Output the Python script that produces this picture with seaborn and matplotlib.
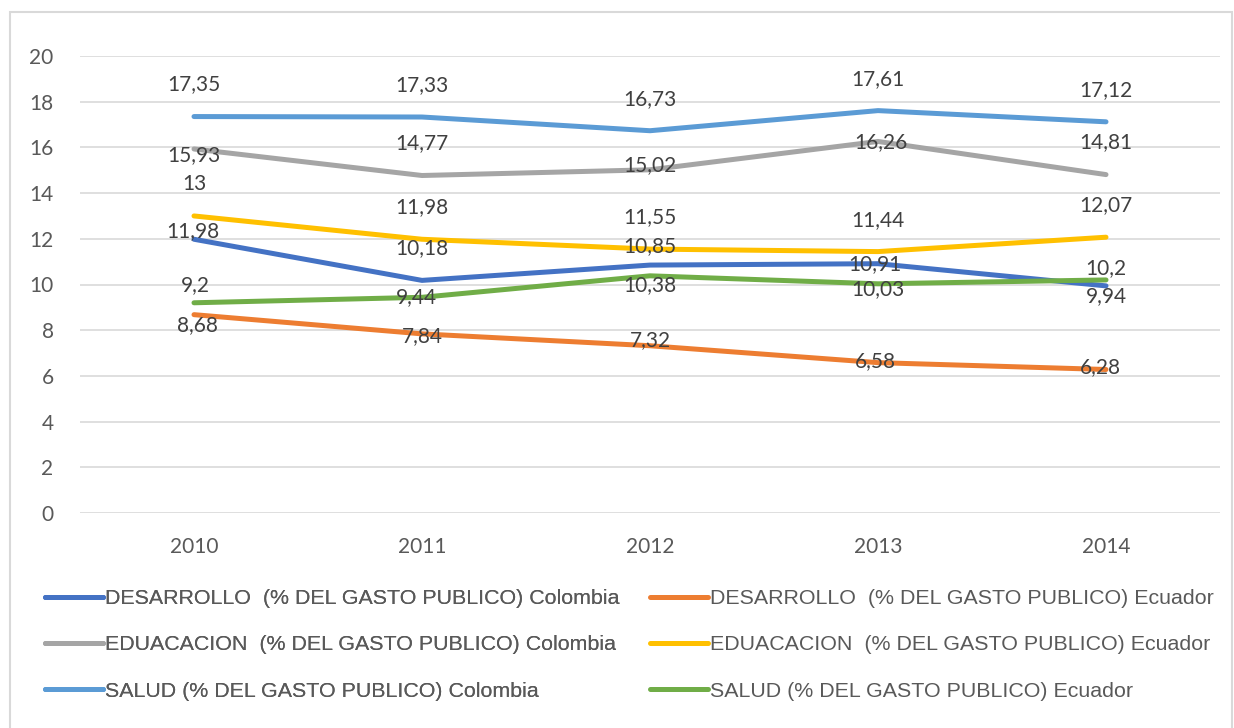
import pandas as pd
import seaborn as sns
import matplotlib.pyplot as plt
from matplotlib.lines import Line2D
from matplotlib.patches import Rectangle

# data
years = [2010, 2011, 2012, 2013, 2014]
series_names = [
    'DESARROLLO  (% DEL GASTO PUBLICO) Colombia',
    'DESARROLLO  (% DEL GASTO PUBLICO) Ecuador',
    'EDUACACION  (% DEL GASTO PUBLICO) Colombia',
    'EDUACACION  (% DEL GASTO PUBLICO) Ecuador',
    'SALUD (% DEL GASTO PUBLICO) Colombia',
    'SALUD (% DEL GASTO PUBLICO) Ecuador',
]
desarrollo_col = [11.98, 10.18, 10.85, 10.91, 9.94]
desarrollo_ecu = [8.68, 7.84, 7.32, 6.58, 6.28]
educacion_col = [15.93, 14.77, 15.02, 16.26, 14.81]
educacion_ecu = [13, 11.98, 11.55, 11.44, 12.07]
salud_col = [17.35, 17.33, 16.73, 17.61, 17.12]
salud_ecu = [9.2, 9.44, 10.38, 10.03, 10.2]
all_values = [desarrollo_col, desarrollo_ecu, educacion_col,
              educacion_ecu, salud_col, salud_ecu]

colors = ['#4472C4', '#ED7D31', '#A5A5A5', '#FFC000', '#5B9BD5', '#70AD47']
palette = dict(zip(series_names, colors))

# label offsets in pixels (excel labels were moved by hand on some points)
label_dy = [
    [8, 32, 19, 0, -10],
    [-10, -2, 6, 2, 2],
    [-6, 32, 5, -1, 32],
    [32, 32, 32, 32, 32],
    [32, 32, 32, 32, 32],
    [18, 0, -9, -5, 12],
]
label_dx = [
    [-1, 0, 0, -3, 0],
    [3, 0, 0, -3, -6],
    [0, 0, 0, 3, 0],
    [0, 0, 0, 0, 0],
    [0, 0, 0, 0, 0],
    [1, -6, 0, 0, 0],
]

rows = []
for name, vals in zip(series_names, all_values):
    for y, v in zip(years, vals):
        rows.append({'year': y, 'value': v, 'serie': name})
df = pd.DataFrame(rows)

sns.set_style('white')
plt.rcParams['font.family'] = ['Lato', 'DejaVu Sans']

fig = plt.figure(figsize=(12.34, 7.28), dpi=100)
ax = fig.add_axes([80 / 1234, 1 - 513 / 728, 1140 / 1234, (513 - 56) / 728])

sns.lineplot(data=df, x='year', y='value', hue='serie', hue_order=series_names,
             palette=palette, linewidth=3.6, legend=False, errorbar=None,
             sort=False, solid_capstyle='round', ax=ax)

for i, vals in enumerate(all_values):
    for j, (y, v) in enumerate(zip(years, vals)):
        txt = f'{v:g}'.replace('.', ',')
        ax.annotate(txt, (y, v), xytext=(label_dx[i][j], label_dy[i][j]),
                    textcoords='offset pixels', ha='center', va='center',
                    fontsize=15, color='#404040')

ax.set_xlim(2009.5, 2014.5)
ax.set_ylim(0, 20)
ax.set_yticks(range(0, 21, 2))
ax.set_xticks(years)
ax.set_xticklabels([str(y) for y in years])
ax.grid(axis='y', color='#d9d9d9', linewidth=1.2)
ax.grid(axis='x', visible=False)
ax.set_axisbelow(True)
for s in ax.spines.values():
    s.set_visible(False)
ax.tick_params(axis='y', length=0, pad=19, labelsize=15, labelcolor='#595959')
ax.tick_params(axis='x', length=0, pad=17, labelsize=15, labelcolor='#595959')
ax.set_xlabel('')
ax.set_ylabel('')

# legend: excel puts it row by row, two columns
handles = [Line2D([], [], color=c, linewidth=3.6, solid_capstyle='round') for c in colors]
leg_kw = dict(frameon=False, loc='center left', borderpad=0, borderaxespad=0,
              handlelength=2.7, handletextpad=0.1, labelspacing=1.28,
              prop={'family': 'Liberation Sans', 'size': 15.4}, labelcolor='#595959')
leg1 = fig.legend(handles[0::2], series_names[0::2],
                  bbox_to_anchor=(45 / 1234, 1 - 645 / 728), **leg_kw)
fig.add_artist(leg1)
fig.legend(handles[1::2], series_names[1::2],
           bbox_to_anchor=(650 / 1234, 1 - 645 / 728), **leg_kw)

# chart frame
fig.add_artist(Rectangle((10 / 1234, -0.01), 1222 / 1234, 1.01 - 12 / 728,
                         transform=fig.transFigure, fill=False,
                         edgecolor='#d9d9d9', linewidth=1.5))

fig.savefig('out.png', dpi=100)
